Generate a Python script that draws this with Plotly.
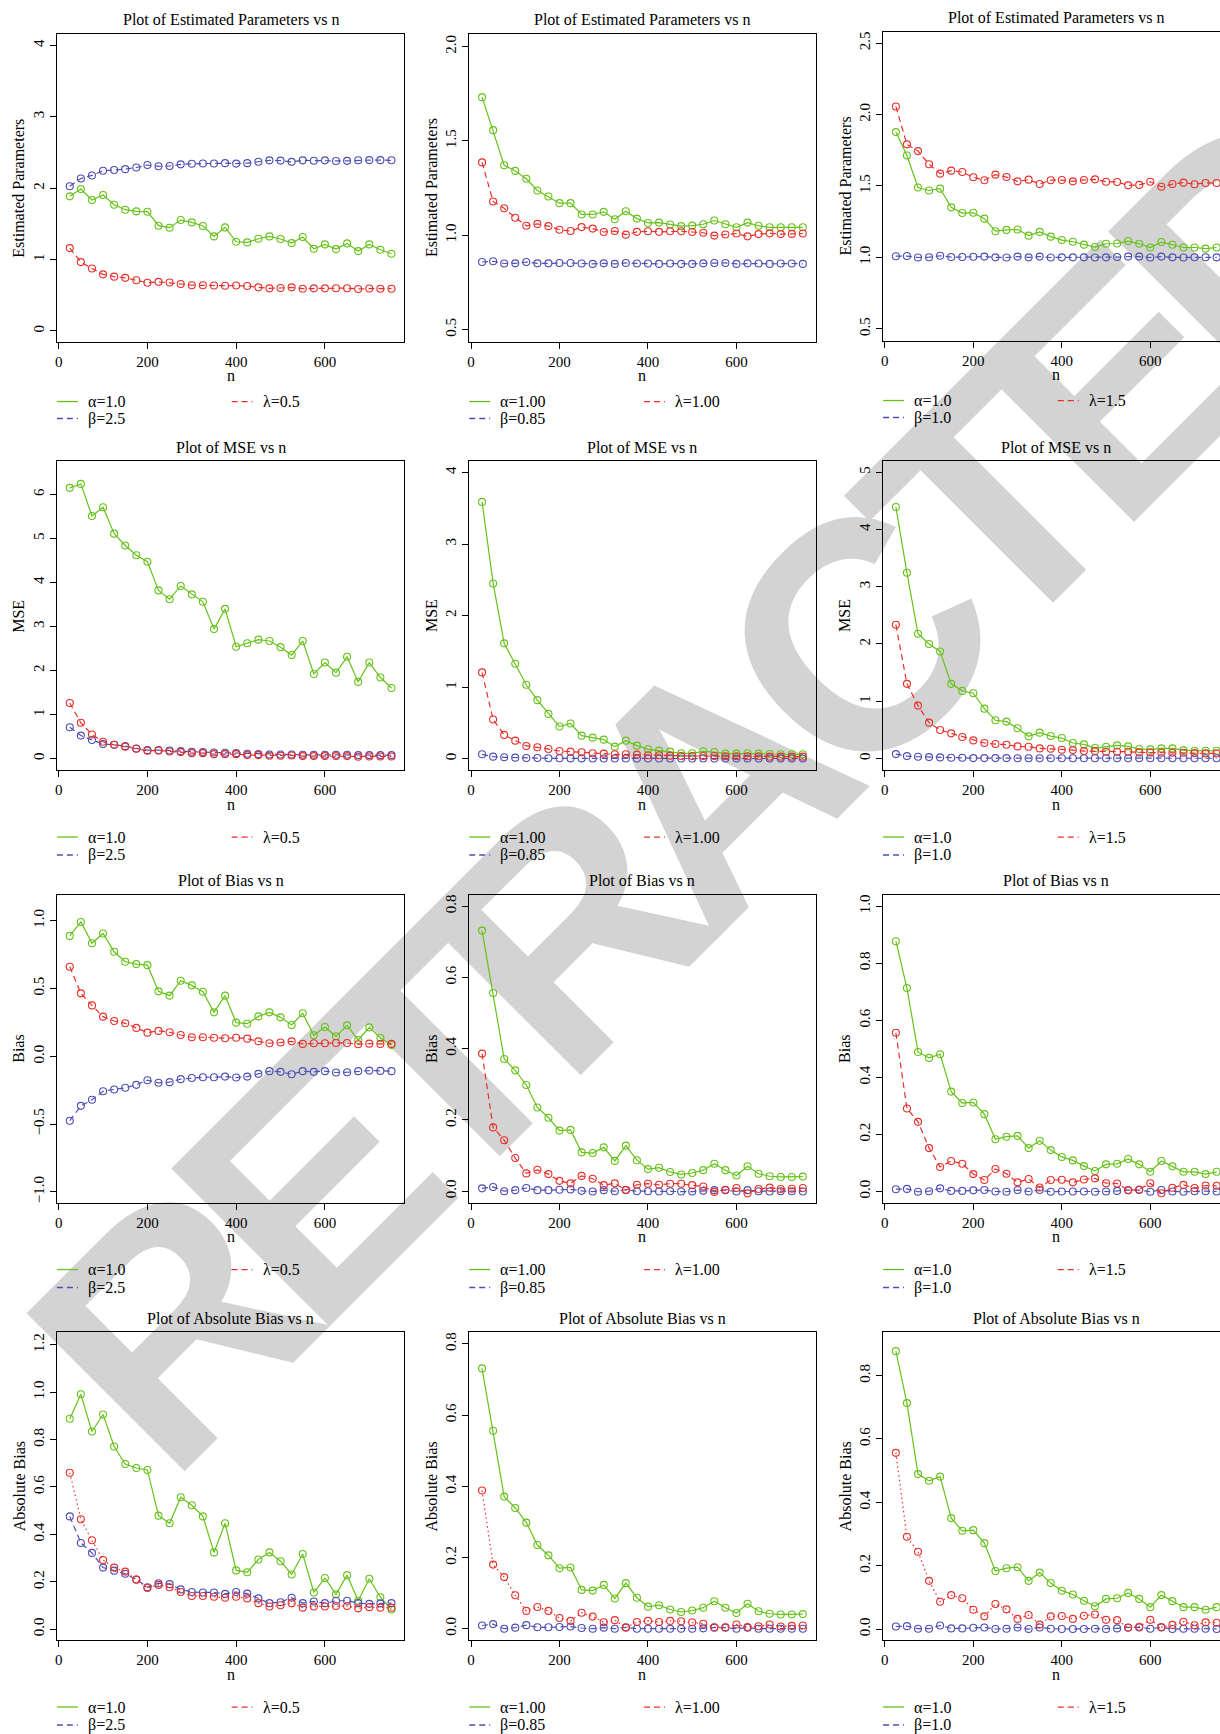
import plotly.graph_objects as go

W, H = 1220, 1734

# ---------------- data ----------------
n = [25, 50, 75, 100, 125, 150, 175, 200, 225, 250, 275, 300, 325, 350, 375,
     400, 425, 450, 475, 500, 525, 550, 575, 600, 625, 650, 675, 700, 725, 750]

# Scenario 1: alpha=1.0, beta=2.5, lambda=0.5
est1_alpha = [1.885, 1.988, 1.834, 1.904, 1.768, 1.698, 1.675, 1.670, 1.474, 1.446, 1.553, 1.520, 1.469, 1.324, 1.450,
              1.249, 1.240, 1.291, 1.324, 1.287, 1.230, 1.315, 1.151, 1.212, 1.146, 1.226, 1.118, 1.212, 1.137, 1.081]
est1_beta = [2.026, 2.136, 2.178, 2.244, 2.255, 2.266, 2.289, 2.324, 2.306, 2.310, 2.333, 2.342, 2.345, 2.345, 2.350,
             2.344, 2.350, 2.370, 2.389, 2.386, 2.368, 2.389, 2.384, 2.389, 2.381, 2.382, 2.390, 2.393, 2.392, 2.390]
est1_lambda = [1.160, 0.964, 0.875, 0.792, 0.760, 0.743, 0.709, 0.674, 0.687, 0.677, 0.657, 0.640, 0.640, 0.637, 0.633,
               0.637, 0.630, 0.610, 0.596, 0.601, 0.610, 0.591, 0.596, 0.596, 0.598, 0.598, 0.588, 0.593, 0.591, 0.591]
mse1_alpha = [6.15, 6.24, 5.51, 5.71, 5.11, 4.84, 4.62, 4.47, 3.82, 3.62, 3.92, 3.73, 3.56, 2.94, 3.40,
              2.54, 2.62, 2.70, 2.67, 2.53, 2.35, 2.67, 1.92, 2.18, 1.95, 2.31, 1.74, 2.18, 1.84, 1.60]
mse1_beta = [0.71, 0.52, 0.42, 0.33, 0.31, 0.28, 0.227, 0.189, 0.189, 0.182, 0.166, 0.151, 0.144, 0.136, 0.129,
             0.121, 0.106, 0.098, 0.091, 0.091, 0.091, 0.083, 0.083, 0.083, 0.083, 0.083, 0.076, 0.076, 0.076, 0.076]
mse1_lambda = [1.26, 0.81, 0.545, 0.378, 0.31, 0.265, 0.219, 0.174, 0.182, 0.159, 0.144, 0.121, 0.121, 0.098, 0.098,
               0.098, 0.076, 0.076, 0.060, 0.060, 0.068, 0.053, 0.053, 0.053, 0.053, 0.053, 0.038, 0.045, 0.045, 0.045]
bias1_alpha = [0.888, 0.991, 0.834, 0.906, 0.771, 0.697, 0.680, 0.672, 0.479, 0.447, 0.557, 0.523, 0.476, 0.324, 0.447,
               0.248, 0.240, 0.294, 0.324, 0.287, 0.231, 0.317, 0.155, 0.216, 0.147, 0.228, 0.120, 0.213, 0.135, 0.083]
bias1_beta = [-0.476, -0.366, -0.321, -0.258, -0.245, -0.233, -0.211, -0.177, -0.196, -0.191, -0.169, -0.160, -0.155, -0.155, -0.150,
              -0.157, -0.150, -0.130, -0.110, -0.115, -0.133, -0.110, -0.115, -0.110, -0.120, -0.118, -0.110, -0.106, -0.108, -0.110]
bias1_lambda = [0.660, 0.464, 0.375, 0.292, 0.260, 0.243, 0.209, 0.174, 0.187, 0.177, 0.157, 0.140, 0.140, 0.137, 0.133,
                0.137, 0.130, 0.110, 0.096, 0.101, 0.110, 0.091, 0.096, 0.096, 0.098, 0.098, 0.088, 0.093, 0.091, 0.091]
abs1_alpha = [0.888, 0.991, 0.834, 0.906, 0.771, 0.697, 0.680, 0.672, 0.479, 0.447, 0.557, 0.523, 0.476, 0.324, 0.447,
              0.248, 0.240, 0.294, 0.324, 0.287, 0.231, 0.317, 0.155, 0.216, 0.147, 0.228, 0.120, 0.213, 0.135, 0.083]
abs1_beta = [0.476, 0.364, 0.322, 0.260, 0.247, 0.234, 0.210, 0.177, 0.194, 0.190, 0.168, 0.157, 0.155, 0.155, 0.149,
             0.157, 0.150, 0.130, 0.110, 0.114, 0.133, 0.110, 0.117, 0.110, 0.120, 0.120, 0.110, 0.107, 0.109, 0.110]
abs1_lambda = [0.660, 0.464, 0.375, 0.292, 0.260, 0.243, 0.209, 0.174, 0.187, 0.177, 0.157, 0.140, 0.140, 0.137, 0.133,
               0.137, 0.130, 0.110, 0.096, 0.101, 0.110, 0.091, 0.096, 0.096, 0.098, 0.098, 0.088, 0.093, 0.091, 0.091]

# Scenario 2: alpha=1.00, beta=0.85, lambda=1.00
est2_alpha = [1.732, 1.557, 1.371, 1.341, 1.299, 1.237, 1.205, 1.170, 1.170, 1.110, 1.110, 1.124, 1.085, 1.127, 1.088,
              1.065, 1.067, 1.057, 1.048, 1.051, 1.058, 1.078, 1.058, 1.042, 1.067, 1.050, 1.042, 1.042, 1.042, 1.042]
est2_beta = [0.858, 0.862, 0.850, 0.851, 0.858, 0.851, 0.851, 0.853, 0.853, 0.850, 0.848, 0.851, 0.848, 0.853, 0.850,
             0.850, 0.848, 0.850, 0.848, 0.848, 0.851, 0.853, 0.853, 0.848, 0.851, 0.850, 0.848, 0.850, 0.850, 0.848]
est2_lambda = [1.386, 1.179, 1.143, 1.093, 1.050, 1.060, 1.048, 1.029, 1.022, 1.043, 1.035, 1.017, 1.022, 1.003, 1.018,
               1.021, 1.018, 1.021, 1.021, 1.017, 1.013, 0.998, 1.004, 1.009, 0.994, 1.006, 1.010, 1.006, 1.007, 1.009]
mse2_alpha = [3.589, 2.449, 1.612, 1.327, 1.033, 0.818, 0.626, 0.449, 0.491, 0.322, 0.294, 0.266, 0.168, 0.252, 0.182,
              0.131, 0.112, 0.098, 0.075, 0.075, 0.103, 0.093, 0.070, 0.070, 0.075, 0.070, 0.065, 0.061, 0.061, 0.061]
mse2_beta = [0.061, 0.028, 0.019, 0.014, 0.009, 0.009, 0.005, 0.005, 0.004, 0.004, 0.003, 0.003, 0.003, 0.003, 0.002,
             0.002, 0.002, 0.002, 0.002, 0.002, 0.002, 0.002, 0.002, 0.002, 0.002, 0.002, 0.002, 0.002, 0.002, 0.002]
mse2_lambda = [1.206, 0.547, 0.332, 0.252, 0.178, 0.159, 0.136, 0.107, 0.098, 0.089, 0.075, 0.070, 0.061, 0.061, 0.056,
               0.047, 0.047, 0.042, 0.037, 0.037, 0.037, 0.037, 0.033, 0.033, 0.033, 0.033, 0.028, 0.028, 0.028, 0.028]
bias2_alpha = [0.731, 0.556, 0.371, 0.339, 0.298, 0.235, 0.206, 0.170, 0.172, 0.109, 0.107, 0.123, 0.085, 0.128, 0.087,
               0.062, 0.066, 0.054, 0.047, 0.051, 0.059, 0.077, 0.059, 0.044, 0.070, 0.049, 0.042, 0.040, 0.040, 0.041]
bias2_beta = [0.008, 0.012, 0.000, 0.003, 0.009, 0.003, 0.003, 0.004, 0.005, 0.001, -0.001, 0.003, 0.000, 0.004, 0.000,
              0.000, -0.001, 0.000, -0.001, -0.001, 0.001, 0.003, 0.003, -0.001, 0.003, 0.000, -0.001, 0.000, 0.000, -0.001]
bias2_lambda = [0.386, 0.179, 0.143, 0.093, 0.050, 0.060, 0.048, 0.029, 0.022, 0.043, 0.035, 0.017, 0.022, 0.003, 0.018,
                0.021, 0.018, 0.021, 0.021, 0.017, 0.013, -0.002, 0.004, 0.009, -0.006, 0.006, 0.010, 0.006, 0.007, 0.009]
abs2_alpha = [0.731, 0.556, 0.371, 0.339, 0.298, 0.235, 0.206, 0.170, 0.172, 0.109, 0.107, 0.123, 0.085, 0.128, 0.087,
              0.062, 0.066, 0.054, 0.047, 0.051, 0.059, 0.077, 0.059, 0.044, 0.070, 0.049, 0.042, 0.040, 0.040, 0.041]
abs2_beta = [0.009, 0.013, 0.000, 0.003, 0.010, 0.004, 0.004, 0.005, 0.006, 0.002, 0.000, 0.003, 0.000, 0.004, 0.000,
             0.000, 0.000, 0.000, 0.000, 0.000, 0.001, 0.003, 0.003, 0.000, 0.003, 0.000, 0.000, 0.000, 0.000, 0.000]
abs2_lambda = [0.388, 0.180, 0.145, 0.094, 0.050, 0.061, 0.050, 0.030, 0.022, 0.045, 0.034, 0.018, 0.024, 0.003, 0.019,
               0.022, 0.019, 0.022, 0.021, 0.018, 0.014, 0.004, 0.004, 0.012, 0.005, 0.007, 0.012, 0.006, 0.008, 0.009]

# Scenario 3: alpha=1.0, beta=1.0, lambda=1.5
est3_alpha = [1.877, 1.713, 1.489, 1.468, 1.481, 1.350, 1.310, 1.312, 1.271, 1.183, 1.192, 1.195, 1.152, 1.178, 1.145,
              1.121, 1.109, 1.089, 1.072, 1.095, 1.097, 1.114, 1.095, 1.069, 1.107, 1.088, 1.069, 1.069, 1.061, 1.069]
est3_beta = [1.008, 1.009, 0.999, 1.001, 1.011, 1.002, 1.002, 1.004, 1.005, 1.000, 0.999, 1.005, 1.000, 1.005, 0.999,
             1.000, 1.000, 1.000, 0.999, 1.000, 1.002, 1.005, 1.005, 0.999, 1.005, 1.000, 0.999, 1.001, 1.001, 1.000]
est3_lambda = [2.056, 1.791, 1.744, 1.652, 1.586, 1.607, 1.597, 1.561, 1.540, 1.579, 1.562, 1.532, 1.544, 1.514, 1.540,
               1.541, 1.532, 1.542, 1.546, 1.529, 1.528, 1.504, 1.507, 1.529, 1.494, 1.513, 1.523, 1.512, 1.521, 1.520]
mse3_alpha = [4.393, 3.242, 2.179, 1.998, 1.869, 1.303, 1.180, 1.139, 0.870, 0.666, 0.643, 0.526, 0.386, 0.450, 0.391,
              0.356, 0.269, 0.245, 0.181, 0.204, 0.228, 0.210, 0.164, 0.158, 0.175, 0.175, 0.146, 0.134, 0.134, 0.134]
mse3_beta = [0.076, 0.041, 0.029, 0.023, 0.018, 0.012, 0.012, 0.006, 0.006, 0.006, 0.006, 0.004, 0.004, 0.004, 0.003,
             0.003, 0.003, 0.003, 0.003, 0.003, 0.003, 0.003, 0.003, 0.003, 0.003, 0.003, 0.003, 0.003, 0.003, 0.003]
mse3_lambda = [2.336, 1.303, 0.923, 0.625, 0.496, 0.438, 0.374, 0.315, 0.269, 0.251, 0.239, 0.210, 0.204, 0.175, 0.169,
               0.152, 0.146, 0.128, 0.128, 0.117, 0.117, 0.117, 0.105, 0.105, 0.099, 0.099, 0.099, 0.093, 0.088, 0.088]
bias3_alpha = [0.877, 0.713, 0.489, 0.468, 0.481, 0.350, 0.310, 0.312, 0.271, 0.183, 0.192, 0.195, 0.152, 0.178, 0.145,
               0.121, 0.109, 0.089, 0.072, 0.095, 0.097, 0.114, 0.095, 0.069, 0.107, 0.088, 0.069, 0.069, 0.061, 0.069]
bias3_beta = [0.008, 0.009, -0.001, 0.001, 0.011, 0.002, 0.002, 0.004, 0.005, 0.000, -0.001, 0.005, 0.000, 0.005, -0.001,
              0.000, 0.000, 0.000, -0.001, 0.000, 0.002, 0.005, 0.005, -0.001, 0.005, 0.000, -0.001, 0.001, 0.001, 0.000]
bias3_lambda = [0.556, 0.291, 0.244, 0.152, 0.086, 0.107, 0.097, 0.061, 0.040, 0.079, 0.062, 0.032, 0.044, 0.014, 0.040,
                0.041, 0.032, 0.042, 0.046, 0.029, 0.028, 0.004, 0.007, 0.029, -0.006, 0.013, 0.023, 0.012, 0.021, 0.020]
abs3_alpha = [0.877, 0.713, 0.489, 0.468, 0.481, 0.350, 0.310, 0.312, 0.271, 0.183, 0.192, 0.195, 0.152, 0.178, 0.145,
              0.121, 0.109, 0.089, 0.072, 0.095, 0.097, 0.114, 0.095, 0.069, 0.107, 0.088, 0.069, 0.069, 0.061, 0.069]
abs3_beta = [0.008, 0.009, 0.001, 0.001, 0.011, 0.002, 0.002, 0.004, 0.005, 0.000, 0.001, 0.005, 0.000, 0.005, 0.001,
             0.000, 0.000, 0.000, 0.001, 0.000, 0.002, 0.005, 0.005, 0.001, 0.005, 0.000, 0.001, 0.001, 0.001, 0.000]
abs3_lambda = [0.556, 0.291, 0.244, 0.152, 0.086, 0.107, 0.097, 0.061, 0.040, 0.079, 0.062, 0.032, 0.044, 0.014, 0.040,
               0.041, 0.032, 0.042, 0.046, 0.029, 0.028, 0.004, 0.007, 0.029, 0.006, 0.013, 0.023, 0.012, 0.021, 0.020]

legend_labels = [["α=1.0", "β=2.5", "λ=0.5"],
                 ["α=1.00", "β=0.85", "λ=1.00"],
                 ["α=1.0", "β=1.0", "λ=1.5"]]
row_titles = ["Plot of Estimated Parameters vs n", "Plot of MSE vs n",
              "Plot of Bias vs n", "Plot of Absolute Bias vs n"]
row_ylabels = ["Estimated Parameters", "MSE", "Bias", "Absolute Bias"]
x_title = "n"
x_ticks = [0, 200, 400, 600]
watermark_text = "RETRACTED"

# y tick values per panel [row][col]
y_ticks = [
    [[0, 1, 2, 3, 4], [0.5, 1.0, 1.5, 2.0], [0.5, 1.0, 1.5, 2.0, 2.5]],
    [[0, 1, 2, 3, 4, 5, 6], [0, 1, 2, 3, 4], [0, 1, 2, 3, 4, 5]],
    [[-1.0, -0.5, 0.0, 0.5, 1.0], [0.0, 0.2, 0.4, 0.6, 0.8], [0.0, 0.2, 0.4, 0.6, 0.8, 1.0]],
    [[0.0, 0.2, 0.4, 0.6, 0.8, 1.0, 1.2], [0.0, 0.2, 0.4, 0.6, 0.8], [0.0, 0.2, 0.4, 0.6, 0.8]],
]
y_fmt = [["d", ".1f", ".1f"], ["d", "d", "d"], [".1f", ".1f", ".1f"], [".1f", ".1f", ".1f"]]
y_ranges = [
    [[-0.15, 4.16], [0.436, 2.067], [0.417, 2.578]],
    [[-0.265, 6.75], [-0.16, 4.154], [-0.204, 5.187]],
    [[-1.08, 1.19], [-0.032, 0.831], [-0.039, 1.039]],
    [[-0.046, 1.252], [-0.032, 0.832], [-0.035, 0.936]],
]

panels = [
    [(est1_alpha, est1_beta, est1_lambda), (est2_alpha, est2_beta, est2_lambda), (est3_alpha, est3_beta, est3_lambda)],
    [(mse1_alpha, mse1_beta, mse1_lambda), (mse2_alpha, mse2_beta, mse2_lambda), (mse3_alpha, mse3_beta, mse3_lambda)],
    [(bias1_alpha, bias1_beta, bias1_lambda), (bias2_alpha, bias2_beta, bias2_lambda), (bias3_alpha, bias3_beta, bias3_lambda)],
    [(abs1_alpha, abs1_beta, abs1_lambda), (abs2_alpha, abs2_beta, abs2_lambda), (abs3_alpha, abs3_beta, abs3_lambda)],
]

# ---------------- style / geometry ----------------
GREEN = "#66C21A"
BLUE = "#4E4EB4"
RED = "#E8302A"
FONT = "Liberation Serif"
DASH = "6px,4px"
DOT = "1.5px,3px"

col_px = [(55, 403), (468, 815), (882.5, 1229.5)]       # plot box left/right (third is cut by the page edge)
row_px = [(33, 341), (461, 770), (895, 1203), (1333, 1641)]
X_RANGE = [-4, 779]


def px(x):
    return x / W


def py(y):
    return 1 - y / H


fig = go.Figure()
annotations = []
shapes = []

for r in range(4):
    for c in range(3):
        k = r * 3 + c + 1
        xa = "x" if k == 1 else f"x{k}"
        ya = "y" if k == 1 else f"y{k}"
        L, R = col_px[c]
        T, B = row_px[r]
        if c == 2 and r == 0:
            T, B = 31, 340
        right_edge = min(R, W)
        xr = [X_RANGE[0], X_RANGE[0] + (right_edge - L) * (X_RANGE[1] - X_RANGE[0]) / (R - L)]

        a, b, l = panels[r][c]
        red_dash = DOT if r == 3 else DASH
        for vals, color, dash, name in [(a, GREEN, "solid", legend_labels[c][0]),
                                        (b, BLUE, DASH, legend_labels[c][1]),
                                        (l, RED, red_dash, legend_labels[c][2])]:
            fig.add_trace(go.Scatter(
                x=n, y=vals, mode="lines+markers", name=name, showlegend=False,
                xaxis=xa, yaxis=ya,
                line=dict(color=color, width=1.2, dash=dash),
                marker=dict(symbol="circle-open", size=7, color=color, line=dict(width=1.1, color=color)),
            ))

        axis_common = dict(showline=True, linecolor="black", linewidth=1, ticks="outside",
                           ticklen=6, tickwidth=1, tickcolor="black", showgrid=False, zeroline=False,
                           tickfont=dict(family=FONT, size=15, color="black"))
        xkey = "xaxis" if k == 1 else f"xaxis{k}"
        ykey = "yaxis" if k == 1 else f"yaxis{k}"
        fig.update_layout(**{
            xkey: dict(domain=[px(L), px(right_edge)], range=xr, anchor=ya, mirror=True,
                       tickvals=x_ticks, **axis_common),
            ykey: dict(domain=[py(B), py(T)], range=y_ranges[r][c], anchor=xa, mirror=(c != 2),
                       tickvals=y_ticks[r][c], tickformat=y_fmt[r][c], tickangle=-90, **axis_common),
        })

        cx = (L + R) / 2
        cy = (T + B) / 2
        # title
        annotations.append(dict(x=px(cx), y=py(T - 14), xref="paper", yref="paper", text=row_titles[r],
                                showarrow=False, xanchor="center", yanchor="middle",
                                font=dict(family=FONT, size=16, color="black")))
        # y title
        annotations.append(dict(x=px(L - 38), y=py(cy), xref="paper", yref="paper", text=row_ylabels[r],
                                showarrow=False, xanchor="center", yanchor="middle", textangle=-90,
                                font=dict(family=FONT, size=16, color="black")))
        # x title
        annotations.append(dict(x=px(cx), y=py(B + 34), xref="paper", yref="paper", text=x_title,
                                showarrow=False, xanchor="center", yanchor="middle",
                                font=dict(family=FONT, size=16, color="black")))
        # legend (drawn manually: alpha & beta in first column, lambda in second)
        off1, off2 = (60, 77) if r == 0 else (67, 85)
        items = [(L, B + off1, GREEN, "solid", legend_labels[c][0]),
                 (L, B + off2, BLUE, DASH, legend_labels[c][1]),
                 (L + 175, B + off1, RED, DASH, legend_labels[c][2])]
        for lx, ly, color, dash, txt in items:
            shapes.append(dict(type="line", xref="paper", yref="paper", x0=px(lx), x1=px(lx + 21),
                               y0=py(ly), y1=py(ly), line=dict(color=color, width=1.3, dash=dash)))
            annotations.append(dict(x=px(lx + 29), y=py(ly), xref="paper", yref="paper", text=txt,
                                    showarrow=False, xanchor="left", yanchor="middle",
                                    font=dict(family=FONT, size=16, color="black")))

# watermark drawn beneath the plots (tight letter spacing, tall bold letters)
WM_CX, WM_CY = 680, 772
shapes.append(dict(type="rect", xref="paper", yref="paper", layer="below",
                   x0=px(WM_CX - 100), x1=px(WM_CX + 100), y0=py(WM_CY + 100), y1=py(WM_CY - 100),
                   line=dict(width=0), fillcolor="rgba(0,0,0,0)",
                   label=dict(text='<span style="letter-spacing:-30px">' + watermark_text + '</span>',
                              textposition="middle center", textangle=-45,
                              font=dict(family="Liberation Sans", size=325,
                                        color="#D3D3D3", weight="bold"))))

fig.update_layout(width=W, height=H, margin=dict(l=0, r=0, t=0, b=0),
                  paper_bgcolor="white", plot_bgcolor="rgba(0,0,0,0)",
                  showlegend=False, annotations=annotations, shapes=shapes)

fig.write_html("out.html")
